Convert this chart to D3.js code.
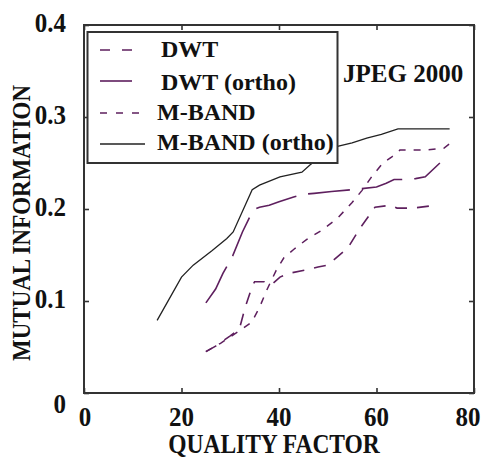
<!DOCTYPE html>
<html><head><meta charset="utf-8">
<script src="https://cdn.jsdelivr.net/npm/d3@7"></script>
<style>
body{margin:0;background:#fff}
svg{display:block}
</style>
</head><body>
<svg id="c" width="484" height="459"></svg>
<script>
// ---- data ----
const xTicks = [0, 20, 40, 60, 80];
const yTicks = [0, 0.1, 0.2, 0.3, 0.4];
const yTickLabels = ["0", "0.1", "0.2", "0.3", "0.4"];
const xTitle = "QUALITY FACTOR";
const yTitle = "MUTUAL INFORMATION";
const annotation = "JPEG 2000";
const seriesNames = ["DWT", "DWT (ortho)", "M-BAND", "M-BAND (ortho)"];

const dwtX = [25, 27, 28, 30, 31, 32, 33, 34.5, 35, 37, 38.5, 40.2, 42, 45.7, 48, 50, 53.5, 54.5, 56.6, 59.7, 62.8, 64.2, 67.5, 72];
const dwtY = [0.045, 0.051, 0.055, 0.062, 0.066, 0.072, 0.092, 0.116, 0.121, 0.121, 0.118, 0.126, 0.130, 0.134, 0.137, 0.139, 0.155, 0.161, 0.179, 0.202, 0.204, 0.201, 0.201, 0.204];

const dwtOrthoX = [25, 27, 28.5, 30.5, 32.5, 34.7, 36, 38, 40, 43, 45, 47.2, 50.8, 55, 60, 62, 63.6, 65, 68, 70, 73];
const dwtOrthoY = [0.098, 0.113, 0.130, 0.149, 0.175, 0.199, 0.202, 0.204, 0.208, 0.213, 0.216, 0.217, 0.219, 0.221, 0.224, 0.228, 0.232, 0.232, 0.233, 0.235, 0.250];

const mbandX = [25, 28, 30, 32, 34.4, 36, 37.5, 39.4, 41, 43, 45.7, 48.8, 52, 55, 57, 59, 61.3, 63, 64.8, 70, 73.8, 75];
const mbandY = [0.045, 0.054, 0.061, 0.068, 0.077, 0.093, 0.112, 0.133, 0.147, 0.156, 0.167, 0.177, 0.190, 0.207, 0.220, 0.235, 0.250, 0.256, 0.264, 0.264, 0.266, 0.271];

const mbandOrthoX = [15, 20, 22.4, 26.3, 29.3, 30.6, 34.5, 36, 40.2, 44.7, 46.4, 50, 52, 55, 58, 61, 64.4, 75];
const mbandOrthoY = [0.079, 0.126, 0.139, 0.155, 0.168, 0.175, 0.221, 0.226, 0.235, 0.240, 0.248, 0.262, 0.268, 0.272, 0.277, 0.281, 0.287, 0.287];

// ---- styles ----
const FONT = "\"Liberation Serif\"";
const purple = "#5e1f5e";
const styles = [
  {color: purple, width: 1.6, dash: "12,10", legendDash: "10,12", legendLen: 32},
  {color: purple, width: 1.6, dash: "42,12", legendDash: null, legendLen: 32},
  {color: purple, width: 1.5, dash: "7,8", legendDash: "7,9", legendLen: 40},
  {color: "#222", width: 1.3, dash: null, legendDash: null, legendLen: 45}
];
const series = [
  {name: seriesNames[0], xs: dwtX, ys: dwtY},
  {name: seriesNames[1], xs: dwtOrthoX, ys: dwtOrthoY},
  {name: seriesNames[2], xs: mbandX, ys: mbandY},
  {name: seriesNames[3], xs: mbandOrthoX, ys: mbandOrthoY}
];

const svg = d3.select("#c");
const x = d3.scaleLinear().domain([0, 80]).range([84, 474]);
const y = d3.scaleLinear().domain([0, 0.4]).range([393, 25]);

// frame
svg.append("rect").attr("x", 84).attr("y", 25).attr("width", 390).attr("height", 368)
  .attr("fill", "#fff").attr("stroke", "#333").attr("stroke-width", 2);

// tick marks via axes (inward)
function tickAxis(axis, tx, ty) {
  const g = svg.append("g").attr("transform", `translate(${tx},${ty})`).call(axis);
  g.select(".domain").remove();
  g.selectAll("line").attr("stroke", "#333").attr("stroke-width", 1.6);
  g.selectAll("text").remove();
}
tickAxis(d3.axisBottom(x).tickValues(xTicks).tickSize(-5).tickFormat(""), 0, 393);
tickAxis(d3.axisTop(x).tickValues(xTicks).tickSize(-5).tickFormat(""), 0, 25);
tickAxis(d3.axisLeft(y).tickValues(yTicks).tickSize(-5).tickFormat(""), 84, 0);
tickAxis(d3.axisRight(y).tickValues(yTicks).tickSize(-5).tickFormat(""), 474, 0);

// lines
const line = d3.line().x(d => x(d[0])).y(d => y(d[1]));
series.forEach((s, i) => {
  const pts = s.xs.map((v, j) => [v, s.ys[j]]);
  const st = styles[i];
  svg.append("path").datum(pts).attr("d", line)
    .attr("fill", "none").attr("stroke", st.color).attr("stroke-width", st.width)
    .attr("stroke-dasharray", st.dash);
});

// legend
const lg = svg.append("g");
lg.append("rect").attr("x", 87.5).attr("y", 32).attr("width", 250).attr("height", 131)
  .attr("fill", "#fff").attr("stroke", "#333").attr("stroke-width", 2);
const legendLineY = [50, 81, 113, 144];
const legendTextY = [57, 90, 120, 150];
const legendTextX = [161, 161, 157, 157];
series.forEach((s, i) => {
  const st = styles[i];
  lg.append("line").attr("x1", 100).attr("x2", 100 + st.legendLen)
    .attr("y1", legendLineY[i]).attr("y2", legendLineY[i])
    .attr("stroke", st.color).attr("stroke-width", st.width)
    .attr("stroke-dasharray", st.legendDash);
  lg.append("text").attr("x", legendTextX[i]).attr("y", legendTextY[i])
    .style("font-family", FONT).style("font-weight", "bold").attr("fill", "#111")
    .attr("font-size", 24).text(s.name);
});

// helper for text with vertical stretch
function label(str, tx, ty, size, anchor, sy, rot) {
  return svg.append("text")
    .attr("transform", `translate(${tx},${ty})` + (rot ? ` rotate(${rot})` : "") + ` scale(1,${sy})`)
    .style("font-family", FONT).style("font-weight", "bold").attr("fill", "#111")
    .attr("font-size", size).attr("text-anchor", anchor).text(str);
}

// y tick labels
yTicks.forEach((v, i) => {
  const off = v === 0 ? 20 : 6.5;
  label(yTickLabels[i], 66, y(v) + off, 25, "end", 1.08);
});
// x tick labels
xTicks.forEach(v => {
  const dx = v === 0 ? 1 : (v === 80 ? -6 : 0);
  label(String(v), x(v) + dx, 426, 25, "middle", 1.08);
});

// axis titles
label(xTitle, 274, 453, 23.5, "middle", 1.2);
label(yTitle, 30, 223, 23, "middle", 1.1, -90);

// annotation
label(annotation, 343, 82, 25, "start", 1.0);
</script>
</body></html>
